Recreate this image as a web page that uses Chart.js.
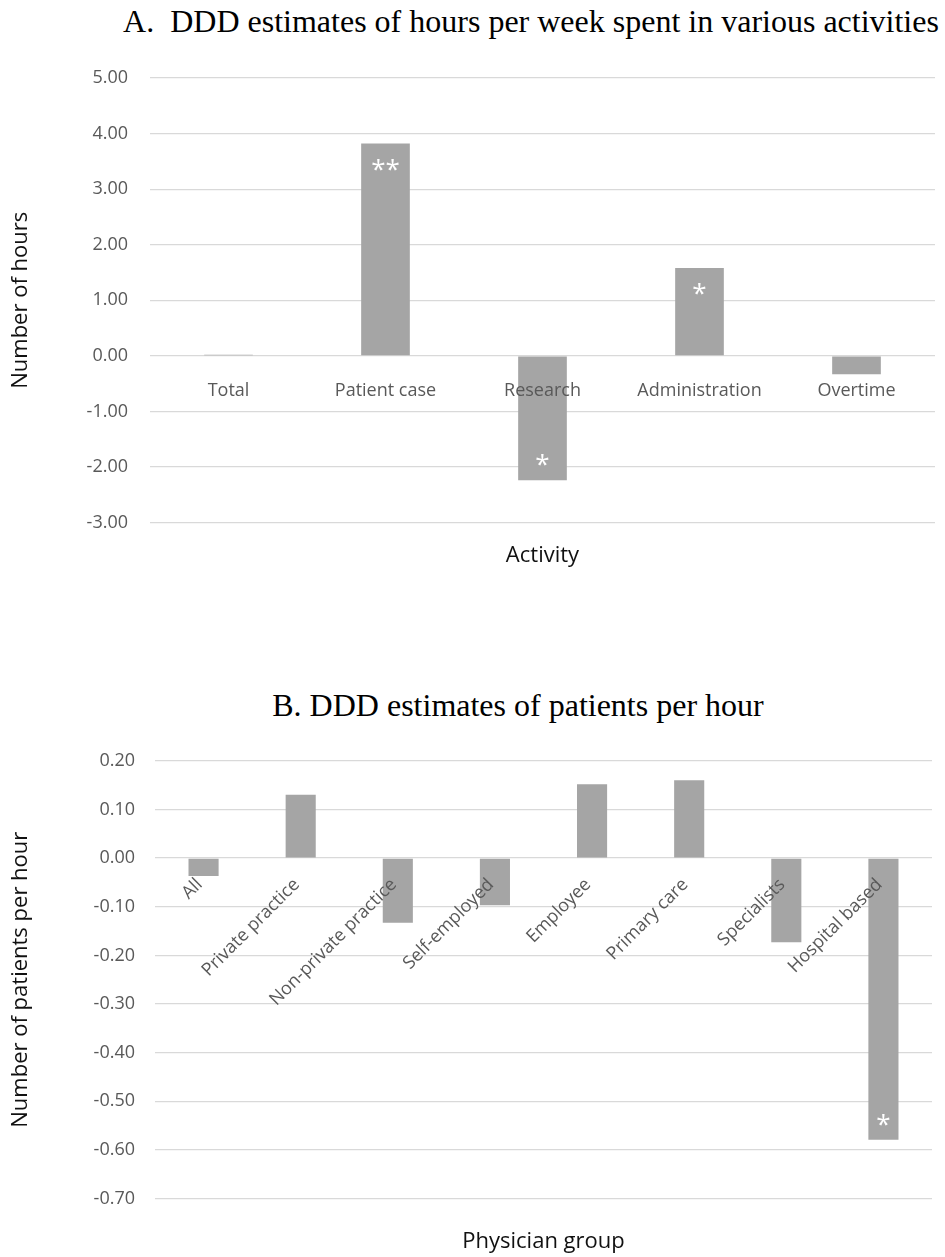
<!DOCTYPE html>
<html>
<head>
<meta charset="utf-8">
<title>DDD estimates</title>
<script src="https://cdn.jsdelivr.net/npm/chart.js@4/dist/chart.umd.min.js"></script>
<style>
  body { margin: 0; background: #fff; width: 945px; height: 1257px; position: relative; overflow: hidden; }
  .title {
    position: absolute; transform: translateX(-50%); white-space: nowrap;
    font-family: "Liberation Serif", "Times New Roman", serif; font-size: 32px; line-height: 32px; color: #000;
  }
  canvas { position: absolute; left: 0; }
</style>
</head>
<body>

<div class="title" style="left:531px; top:5px;">A.&nbsp; DDD estimates of hours per week spent in various activities</div>
<canvas id="chartA" width="945" height="529" style="top:40px;"></canvas>

<div class="title" style="left:518px; top:689px;">B. DDD estimates of patients per hour</div>
<canvas id="chartB" width="945" height="525" style="top:730px;"></canvas>

<script>
// -------------------------------
// DATA — panel A (hours per week)
// -------------------------------
const activityLabels = ["Total", "Patient case", "Research", "Administration", "Overtime"];
const hoursValues = [0.02, 3.82, -2.24, 1.58, -0.33];
const hoursStars = ["", "**", "*", "*", ""];
const hoursMin = -3, hoursMax = 5, hoursStep = 1;

// -------------------------------
// DATA — panel B (patients per hour)
// -------------------------------
const groupLabels = ["All", "Private practice", "Non-private practice", "Self-employed",
                     "Employee", "Primary care", "Specialists", "Hospital based"];
const patientValues = [-0.037, 0.13, -0.133, -0.097, 0.152, 0.16, -0.173, -0.579];
const patientStars = ["", "", "", "", "", "", "", "*"];
const patientMin = -0.7, patientMax = 0.2, patientStep = 0.1;

// -------------------------------
// COMMON STYLE
// -------------------------------
const FONT = '"Open Sans", "Noto Sans", sans-serif';
const BAR = "#a5a5a5";
const GRID = "#d9d9d9";
const TICK = "#595959";

// significance stars, white, inside the bar end
const starPlugin = {
  id: "stars",
  afterDatasetsDraw(chart, args, opts) {
    const ctx = chart.ctx;
    const bars = chart.getDatasetMeta(0).data;
    ctx.save();
    ctx.fillStyle = "#fff";
    ctx.font = "26px " + FONT;
    ctx.textAlign = "center";
    bars.forEach((bar, i) => {
      const s = opts.marks[i];
      if (!s) return;
      const m = ctx.measureText(s);
      const up = bar.y < bar.base;
      const cy = up ? bar.y + 21 : bar.y - 20;
      ctx.fillText(s, bar.x, cy + (m.actualBoundingBoxAscent - m.actualBoundingBoxDescent) / 2);
    });
    ctx.restore();
  }
};

function makeChart(id, o) {
  return new Chart(document.getElementById(id), {
    type: "bar",
    data: {
      labels: o.labels,
      datasets: [{
        data: o.values,
        backgroundColor: BAR,
        borderWidth: 0,
        categoryPercentage: 1,
        barPercentage: 0.31
      }]
    },
    options: {
      responsive: false,
      animation: false,
      devicePixelRatio: 1,
      layout: { padding: { top: o.padTop, right: o.padRight, bottom: 0, left: 0 } },
      plugins: {
        legend: { display: false },
        tooltip: { enabled: false },
        stars: { marks: o.stars }
      },
      scales: {
        y: {
          min: o.min, max: o.max,
          afterFit(s) { s.width = o.left; },
          ticks: {
            stepSize: o.step,
            padding: o.tickPad,
            color: TICK,
            font: { family: FONT, size: 18 },
            callback: v => Number(v).toFixed(2)
          },
          grid: { color: GRID, lineWidth: 1.2, drawTicks: false },
          border: { display: false },
          title: {
            display: true, text: o.yTitle, color: "#111",
            font: { family: FONT, size: 22 },
            padding: { top: 8, bottom: 0 }
          }
        },
        x: {
          position: { y: 0 },
          afterFit(s) { s.height = 0; },
          grid: { display: false },
          border: { display: false },
          ticks: {
            z: 1, // category labels sit on top of the bars
            autoSkip: false,
            minRotation: o.rot, maxRotation: o.rot,
            padding: o.xPad,
            labelOffset: o.rot ? -4 : 0,
            color: TICK,
            font: { family: FONT, size: 18 }
          }
        },
        x2: {
          type: "category",
          position: "bottom",
          grid: { display: false },
          border: { display: false },
          ticks: { display: false },
          title: {
            display: true, text: o.xTitle, color: "#111",
            font: { family: FONT, size: 22 },
            padding: { top: o.xTitleGap, bottom: 0 }
          }
        }
      }
    },
    plugins: [starPlugin]
  });
}

makeChart("chartA", {
  labels: activityLabels, values: hoursValues, stars: hoursStars,
  min: hoursMin, max: hoursMax, step: hoursStep,
  yTitle: "Number of hours", xTitle: "Activity",
  left: 150, padRight: 10, padTop: 38, tickPad: 22,
  rot: 0, xPad: 16, xTitleGap: 12
});

makeChart("chartB", {
  labels: groupLabels, values: patientValues, stars: patientStars,
  min: patientMin, max: patientMax, step: patientStep,
  yTitle: "Number of patients per hour", xTitle: "Physician group",
  left: 155, padRight: 13, padTop: 27, tickPad: 20,
  rot: 45, xPad: 8, xTitleGap: 22
});
</script>
</body>
</html>
